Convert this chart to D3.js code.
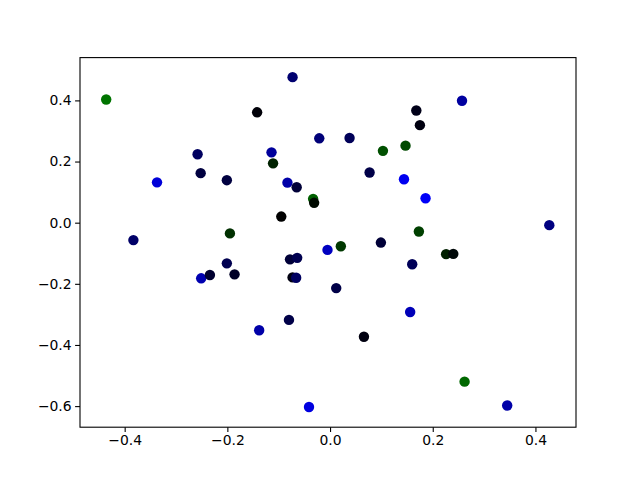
<!DOCTYPE html>
<html>
<head>
<meta charset="utf-8">
<script src="https://cdn.jsdelivr.net/npm/d3@7"></script>
<style>
  body { margin: 0; background: #fff; }
  text { font-family: "DejaVu Sans", sans-serif; font-size: 13.9px; fill: #000; }
</style>
</head>
<body>
<div id="vis"></div>
<script>
// point data
var xs = [-0.436, -0.073, -0.142, -0.021, -0.114, -0.111, -0.258, -0.337, -0.252, -0.201,
          -0.083, -0.065, -0.033, -0.031, -0.095, -0.195, -0.383, 0.257, 0.168, 0.175,
          0.038, 0.103, 0.147, 0.077, 0.144, 0.186, 0.427, 0.173, 0.021, 0.099,
          -0.201, -0.251, -0.234, -0.186, -0.078, -0.064, -0.073, -0.066, -0.005, -0.138,
          -0.080, -0.041, 0.226, 0.240, 0.160, 0.012, 0.156, 0.066, 0.262, 0.345];
var ys = [0.403, 0.476, 0.361, 0.276, 0.230, 0.194, 0.224, 0.132, 0.162, 0.139,
          0.131, 0.116, 0.078, 0.065, 0.020, -0.035, -0.057, 0.399, 0.367, 0.319,
          0.277, 0.235, 0.252, 0.164, 0.142, 0.080, -0.008, -0.029, -0.077, -0.065,
          -0.133, -0.182, -0.171, -0.169, -0.120, -0.115, -0.179, -0.180, -0.089, -0.352,
          -0.318, -0.603, -0.103, -0.102, -0.136, -0.214, -0.292, -0.373, -0.520, -0.598];
var colors = ["#007400", "#000070", "#000008", "#000078", "#00009c", "#002200", "#000060", "#0000d8", "#000040", "#000040",
              "#0000a8", "#000038", "#006000", "#000a00", "#000000", "#003000", "#000068", "#0000a0", "#000018", "#000010",
              "#000058", "#005000", "#004a00", "#000048", "#0000f0", "#0000f8", "#000080", "#004000", "#003800", "#000038",
              "#000050", "#0000b0", "#000030", "#000028", "#000038", "#000050", "#000010", "#000060", "#0000c0", "#0000a8",
              "#000048", "#0000e0", "#002000", "#000808", "#000058", "#000048", "#0000b8", "#000010", "#006800", "#0000a8"];
var xTicks = [-0.4, -0.2, 0.0, 0.2, 0.4],
    yTicks = [-0.6, -0.4, -0.2, 0.0, 0.2, 0.4];

var w = 640,
    h = 480,
    axLeft = 80, axRight = 576, axTop = 57.6, axBottom = 427.2,
    tick_len = 4.9;

var x = d3.scaleLinear().domain([-0.487, 0.479]).range([axLeft, axRight]),
    y = d3.scaleLinear().domain([-0.669, 0.540]).range([axBottom, axTop]);

var fmt = function(d) { return d3.format(".1f")(d).replace("-", "\u2212"); };

var svg = d3.select("#vis")
            .append("svg")
            .attr("width", w)
            .attr("height", h);

// points
var pts = xs.map(function(d, i) { return {x: d, y: ys[i], c: colors[i]}; });
svg.append("g")
   .selectAll("circle")
   .data(pts)
   .enter()
   .append("circle")
   .attr("cx", function(d) { return x(d.x); })
   .attr("cy", function(d) { return y(d.y); })
   .attr("r", 5.2)
   .attr("fill", function(d) { return d.c; });

// axes
svg.append("g")
   .attr("transform", "translate(0," + axBottom + ")")
   .call(d3.axisBottom(x).tickValues(xTicks).tickFormat(fmt).tickSizeInner(tick_len).tickSizeOuter(0).tickPadding(3.5))
   .call(function(g) { g.select(".domain").remove(); });

svg.append("g")
   .attr("transform", "translate(" + axLeft + ",0)")
   .call(d3.axisLeft(y).tickValues(yTicks).tickFormat(fmt).tickSizeInner(tick_len).tickSizeOuter(0).tickPadding(3.5))
   .call(function(g) { g.select(".domain").remove(); });

svg.selectAll(".tick text").style("font-family", "DejaVu Sans").style("font-size", "13.9px").attr("fill", "#000");
svg.selectAll(".tick line").attr("stroke", "#000").attr("stroke-width", 1.1);

// frame
svg.append("rect")
   .attr("x", axLeft)
   .attr("y", axTop)
   .attr("width", axRight - axLeft)
   .attr("height", axBottom - axTop)
   .attr("fill", "none")
   .attr("stroke", "#000")
   .attr("stroke-width", 1.1);
</script>
</body>
</html>
